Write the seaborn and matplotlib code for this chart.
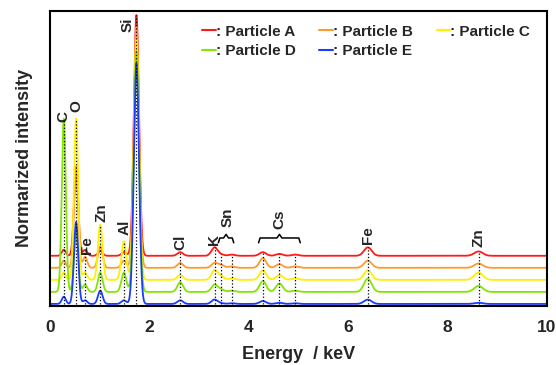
import numpy as np
import pandas as pd
import matplotlib
matplotlib.use("Agg")
import matplotlib.pyplot as plt
from matplotlib.lines import Line2D
import seaborn as sns

# ---------------- Peak table (Si K = 100) ----------------
peak_names = ["C", "O", "Fe", "Zn", "Al", "Si", "Cl", "K", "Sn", "Sn", "Cs", "Cs", "Cs", "Fe", "Zn"]
peak_kev = [0.277, 0.525, 0.705, 1.012, 1.487, 1.740, 2.622, 3.313, 3.444, 3.663,
            4.286, 4.619, 4.936, 6.400, 8.630]

particles = ["Particle A", "Particle B", "Particle C", "Particle D", "Particle E"]
amp_a = [2.5, 37, 2.5, 2.0, 1.5, 100, 1.5, 3.5, 0.5, 0.5, 1.5, 0.8, 0.5, 3.5, 1.8]
amp_b = [3.0, 42, 4.5, 9.0, 3.0, 100, 2.0, 2.0, 1.2, 0.6, 4.0, 1.5, 0.6, 3.0, 1.8]
amp_c = [3.0, 67, 3.0, 23, 16, 100, 2.0, 4.0, 1.5, 0.6, 4.0, 2.0, 0.6, 4.0, 3.0]
amp_d = [72, 25, 3.0, 8.0, 8.0, 100, 4.0, 3.0, 1.0, 0.5, 4.5, 3.5, 0.5, 5.5, 2.5]
amp_e = [3.0, 34, 1.5, 5.5, 1.5, 100, 1.5, 1.8, 0.3, 0.3, 1.2, 0.5, 0.3, 1.8, 0.5]
offsets = [20, 15, 10, 5, 0]
colors = ["#ff1a1a", "#ff9a2e", "#ffef00", "#84e600", "#1a3cff"]

# ---------------- Build spectra from the peak table ----------------
energy = np.linspace(0, 10, 2001)


def spectrum(amps, off):
    y = np.full_like(energy, off, dtype=float)
    for e0, a in zip(peak_kev, amps):
        sig = np.sqrt(0.038 ** 2 + 0.0007 * e0)
        y += a * np.exp(-0.5 * ((energy - e0) / sig) ** 2)
    return y


rows = []
curves = {}
for name, amps, off in zip(particles, [amp_a, amp_b, amp_c, amp_d, amp_e], offsets):
    y = spectrum(amps, off)
    curves[name] = y
    rows.append(pd.DataFrame({"Energy": energy, "Intensity": y, "Particle": name}))
df = pd.concat(rows, ignore_index=True)

# ---------------- Plot ----------------
sns.set_style("ticks")
plt.rcParams["font.family"] = ["Liberation Sans", "DejaVu Sans"]
plt.rcParams["font.weight"] = "bold"

fig = plt.figure(figsize=(5.56, 3.65), dpi=100)
ax = fig.add_axes([0.090, 0.162, 0.893, 0.808])

sns.lineplot(data=df, x="Energy", y="Intensity", hue="Particle", palette=colors,
             estimator=None, sort=False, lw=1.3, ax=ax, legend=False)

# dotted marker lines up to the highest curve
for e0 in peak_kev:
    top = max(np.interp(e0, energy, c) for c in curves.values())
    ax.plot([e0, e0], [0, top], color="black", ls=":", lw=0.9, zorder=5)

# element labels
labels = [("C", 0.26, 78), ("O", 0.54, 82), ("Si", 1.57, 116), ("Fe", 0.74, 24.5),
          ("Zn", 1.04, 38), ("Al", 1.51, 32), ("Cl", 2.63, 25.5), ("K", 3.31, 26.6),
          ("Sn", 3.57, 36), ("Cs", 4.62, 35), ("Fe", 6.41, 28.7), ("Zn", 8.63, 27.4)]
for txt, x, y in labels:
    ax.text(x, y, txt, rotation=90, ha="center", va="center", fontsize=11, fontweight="bold")

# curly brackets for Sn and Cs
for x0, x1 in [(3.39, 3.70), (4.20, 5.04)]:
    xm = (x0 + x1) / 2
    ax.plot([x0, x0 + 0.03, xm - 0.05, xm, xm + 0.05, x1 - 0.03, x1],
            [25.4, 27.4, 27.4, 28.9, 27.4, 27.4, 25.4], color="black", lw=1.1)

ax.set_xlim(0, 10)
ax.set_ylim(-0.8, 121.7)
ax.set_xticks([0, 2, 4, 6, 8, 10])
ax.set_yticks([])
ax.tick_params(axis="x", length=0, labelsize=12.5, pad=10)
for lab in ax.get_xticklabels():
    lab.set_fontweight("bold")
for sp in ax.spines.values():
    sp.set_visible(True)
    sp.set_linewidth(1.5)
    sp.set_color("black")
ax.set_xlabel("Energy  / keV", fontsize=13, fontweight="bold", labelpad=8)
ax.set_ylabel("Normarized intensity", fontsize=13, fontweight="bold", labelpad=12)

# legend laid out row by row
handles = [Line2D([], [], color=c, lw=1.5) for c in colors]
texts = [": " + p for p in particles]
order = [0, 3, 1, 4, 2]
ax.legend([handles[i] for i in order], [texts[i] for i in order], ncol=3, frameon=False,
          loc="upper right", bbox_to_anchor=(0.995, 1.0), handlelength=0.9,
          handletextpad=0.0, columnspacing=1.55, labelspacing=0.35,
          prop={"weight": "bold", "size": 11})

fig.savefig("out.png", dpi=100)
